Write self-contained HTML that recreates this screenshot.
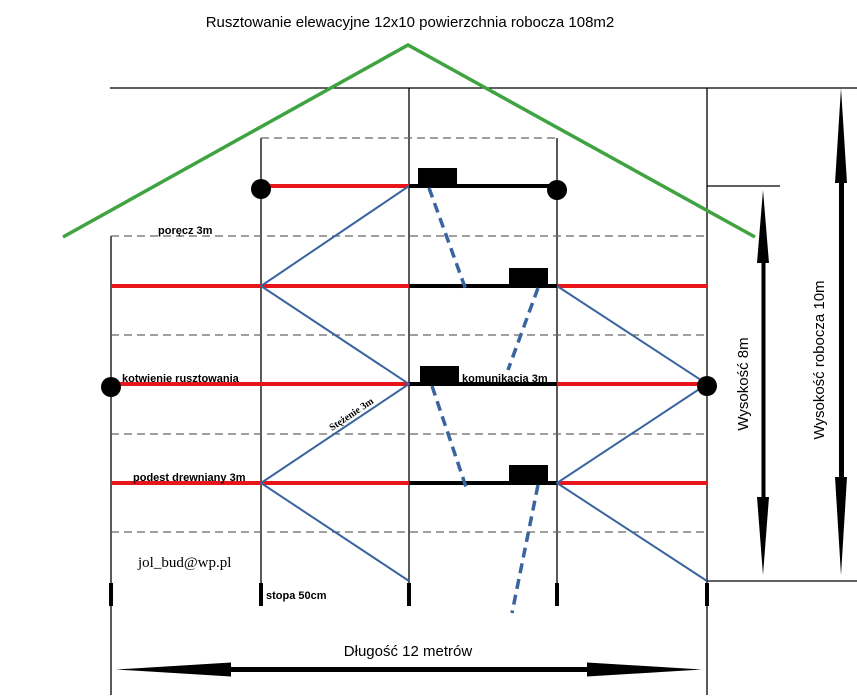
<!DOCTYPE html>
<html><head><meta charset="utf-8"><style>
html,body{margin:0;padding:0;background:#fff}
svg{display:block}
.s{font-family:"Liberation Sans",sans-serif}
.b{font-family:"Liberation Sans",sans-serif;font-weight:bold;font-size:11px}
</style></head><body>
<svg width="857" height="699" viewBox="0 0 857 699" xmlns="http://www.w3.org/2000/svg">
<rect width="857" height="699" fill="#fff"/>
<text x="410" y="27" class="s" font-size="15" text-anchor="middle">Rusztowanie elewacyjne 12x10 powierzchnia robocza 108m2</text>
<!-- frame lines -->
<g stroke="#000" stroke-width="1.3" fill="none">
<line x1="110" y1="88" x2="857" y2="88"/>
<line x1="707" y1="186" x2="780" y2="186"/>
<line x1="707" y1="581" x2="857" y2="581"/>
<line x1="111" y1="236" x2="111" y2="695"/>
<line x1="261" y1="138" x2="261" y2="605"/>
<line x1="409" y1="88" x2="409" y2="605"/>
<line x1="557" y1="138" x2="557" y2="605"/>
<line x1="707" y1="88" x2="707" y2="695"/>
</g>
<!-- dashed -->
<g stroke="#666" stroke-width="1.2" stroke-dasharray="8,5">
<line x1="261" y1="138" x2="557" y2="138"/>
<line x1="111" y1="236" x2="707" y2="236"/>
<line x1="111" y1="335" x2="707" y2="335"/>
<line x1="111" y1="434" x2="707" y2="434"/>
<line x1="111" y1="532" x2="707" y2="532"/>
</g>
<!-- roof -->
<polyline points="63,237 408,45 755,237" fill="none" stroke="#3fa33f" stroke-width="3.5"/>
<!-- red platforms -->
<g stroke="#e8161a" stroke-width="4">
<line x1="261" y1="186" x2="409" y2="186"/>
<line x1="111" y1="286" x2="409" y2="286"/><line x1="557" y1="286" x2="707" y2="286"/>
<line x1="111" y1="384" x2="409" y2="384"/><line x1="557" y1="384" x2="707" y2="384"/>
<line x1="111" y1="483" x2="409" y2="483"/><line x1="557" y1="483" x2="707" y2="483"/>
</g>
<g stroke="#000" stroke-width="4">
<line x1="409" y1="186" x2="557" y2="186"/>
<line x1="409" y1="286" x2="557" y2="286"/>
<line x1="409" y1="384" x2="557" y2="384"/>
<line x1="409" y1="483" x2="557" y2="483"/>
</g>
<!-- feet -->
<g stroke="#000" stroke-width="4">
<line x1="111" y1="583" x2="111" y2="606"/>
<line x1="261" y1="583" x2="261" y2="606"/>
<line x1="409" y1="583" x2="409" y2="606"/>
<line x1="557" y1="583" x2="557" y2="606"/>
<line x1="707" y1="583" x2="707" y2="606"/>
</g>
<!-- boxes -->
<g fill="#000">
<rect x="418" y="168" width="39" height="18"/>
<rect x="509" y="268" width="39" height="18"/>
<rect x="420" y="366" width="39" height="18"/>
<rect x="509" y="465" width="39" height="18"/>
</g>
<!-- diagonals -->
<g stroke="#3a64a0" stroke-width="2" fill="none">
<polyline points="409,186 261,286 409,384 261,483 409,581"/>
<polyline points="557,286 707,384 557,483 707,581"/>
</g>
<g stroke="#3a64a0" stroke-width="3.5" stroke-dasharray="10,6" fill="none">
<line x1="429" y1="188" x2="466" y2="290"/>
<line x1="538" y1="288" x2="508" y2="370"/>
<line x1="432" y1="386" x2="466" y2="487"/>
<line x1="538" y1="485" x2="512" y2="613"/>
</g>
<!-- circles -->
<g fill="#000">
<circle cx="261" cy="189" r="10"/>
<circle cx="557" cy="190" r="10"/>
<circle cx="111" cy="387" r="10"/>
<circle cx="707" cy="386" r="10"/>
</g>
<!-- labels -->
<text x="158" y="234" class="b">poręcz 3m</text>
<text x="122" y="382" class="b">kotwienie rusztowania</text>
<text x="462" y="382" class="b">komunikacja 3m</text>
<text x="133" y="481" class="b">podest drewniany 3m</text>
<text x="266" y="599" class="b">stopa 50cm</text>
<text x="138" y="567" font-family="Liberation Serif,serif" font-size="15">jol_bud@wp.pl</text>
<text x="0" y="0" font-family="Liberation Serif,serif" font-weight="bold" font-size="10" transform="translate(332,431) rotate(-34)">Stężenie 3m</text>
<!-- arrows -->
<g fill="#000">
<rect x="761.5" y="255" width="4" height="250"/>
<polygon points="763,190 757,263 769,263"/>
<polygon points="763,575 757,497 769,497"/>
<rect x="839" y="175" width="5" height="310"/>
<polygon points="841,88 835,183 847,183"/>
<polygon points="841,575 835,477 847,477"/>
<rect x="225" y="667" width="368" height="5"/>
<polygon points="116,669.5 231,662.5 231,676.5"/>
<polygon points="702,669.5 587,662.5 587,676.5"/>
</g>
<text x="408" y="656" class="s" font-size="15" text-anchor="middle">Długość 12 metrów</text>
<text class="s" font-size="15" text-anchor="middle" transform="translate(748,384) rotate(-90)">Wysokość 8m</text>
<text class="s" font-size="15" text-anchor="middle" transform="translate(824,360) rotate(-90)">Wysokość robocza 10m</text>
</svg>
</body></html>
